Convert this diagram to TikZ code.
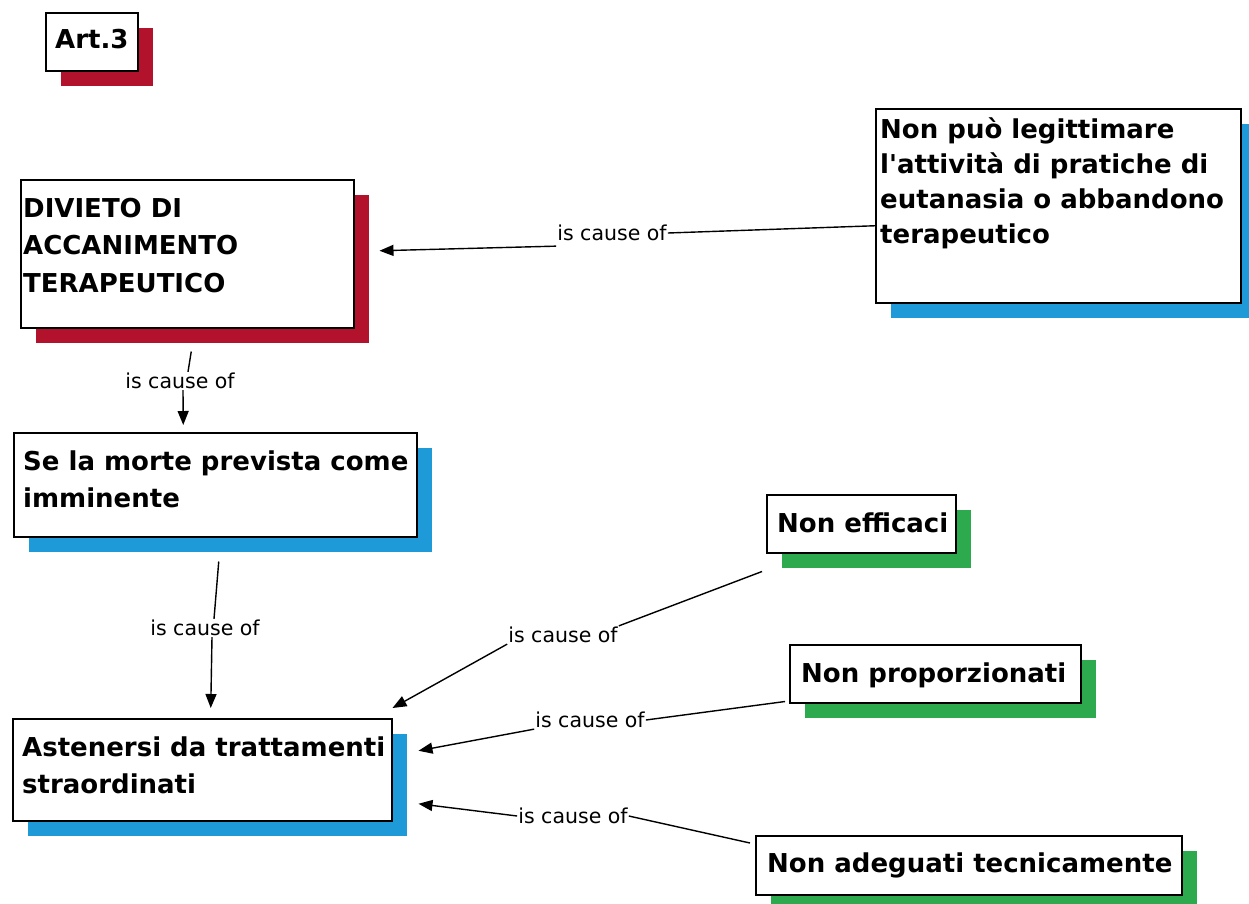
\documentclass[tikz,border=0pt]{standalone}
\usepackage{fontspec}
\setmainfont{DejaVu Sans}
\usetikzlibrary{arrows.meta,shadows}
\definecolor{shred}{HTML}{B3122D}
\definecolor{shblue}{HTML}{1E9AD8}
\definecolor{shgreen}{HTML}{2EAA4E}
\tikzset{
  cbox/.style={draw=black, line width=1.5pt, fill=white, inner sep=0pt, anchor=north west},
  redsh/.style={drop shadow={shadow xshift=15pt, shadow yshift=-15pt, opacity=1, fill=shred}},
  bluesh/.style={drop shadow={shadow xshift=15pt, shadow yshift=-15pt, opacity=1, fill=shblue}},
  greensh/.style={drop shadow={shadow xshift=15pt, shadow yshift=-15pt, opacity=1, fill=shgreen}},
  btext/.style={anchor=base west, inner sep=0pt, font=\fontsize{26}{37}\selectfont\bfseries},
  lbl/.style={font=\fontsize{20.5}{24}\selectfont, inner sep=1pt},
  conn/.style={line width=1.4pt, draw=black},
  arr/.style={conn, -{Triangle[length=14pt,width=11pt]}},
}
\begin{document}
\begin{tikzpicture}[x=1pt,y=-1pt]
\useasboundingbox (0,0) rectangle (1249,903);
% boxes
\node[cbox, redsh, minimum width=92pt, minimum height=58pt] (art) at (45,12) {};
\node[btext] (art-t) at (55,48) {Art.3};

\node[cbox, redsh, minimum width=333pt, minimum height=148pt] (div) at (20,179) {};
\node[btext, font=\fontsize{26}{37.5}\selectfont\bfseries] (div-t) at (23,217) {\parbox[t]{330pt}{DIVIETO DI\\ACCANIMENTO\\TERAPEUTICO}};

\node[cbox, bluesh, minimum width=365pt, minimum height=194pt] (pu) at (875,108) {};
\node[btext, font=\fontsize{26}{35}\selectfont\bfseries] (pu-t) at (880,138) {\parbox[t]{360pt}{Non può legittimare\\l\textquotesingle attività di pratiche di\\eutanasia o abbandono\\terapeutico}};

\node[cbox, bluesh, minimum width=403pt, minimum height=104pt] (se) at (13,432) {};
\node[btext] (se-t) at (23,470) {\parbox[t]{400pt}{Se la morte prevista come\\imminente}};

\node[cbox, bluesh, minimum width=379pt, minimum height=102pt] (ast) at (12,718) {};
\node[btext] (ast-t) at (22,756) {\parbox[t]{370pt}{Astenersi da trattamenti\\straordinati}};

\node[cbox, greensh, minimum width=189pt, minimum height=58pt] (eff) at (766,494) {};
\node[btext] (eff-t) at (777,532) {Non efficaci};

\node[cbox, greensh, minimum width=291pt, minimum height=58pt] (pro) at (789,644) {};
\node[btext] (pro-t) at (801,682) {Non proporzionati};

\node[cbox, greensh, minimum width=426pt, minimum height=59pt] (ade) at (755,835) {};
\node[btext] (ade-t) at (767,872) {Non adeguati tecnicamente};

% labels
\node[lbl] (l1) at (612,233) {is cause of};
\node[lbl] (l2) at (180,381) {is cause of};
\node[lbl] (l3) at (205,628) {is cause of};
\node[lbl] (l4) at (563,635) {is cause of};
\node[lbl] (l5) at (590,720) {is cause of};
\node[lbl] (l6) at (573,816) {is cause of};

% connectors
\draw[conn] ([yshift=-20pt]pu.west) -- (l1.east);
\draw[arr] ([yshift=-4pt]l1.south west) -- ([xshift=25pt,yshift=3pt]div.east);

\draw[conn] ([xshift=4pt,yshift=-23pt]div.south) -- ([xshift=8pt]l2.north);
\draw[arr] ([xshift=3pt]l2.south) -- ([xshift=-32pt,yshift=7pt]se.north);

\draw[conn] ([xshift=3.5pt,yshift=-24pt]se.south) -- ([xshift=9pt]l3.north);
\draw[arr] ([xshift=7pt]l3.south) -- ([xshift=8.5pt,yshift=10pt]ast.north);

\draw[conn] ([xshift=-4pt,yshift=-18pt]eff.south west) -- (l4.north east);
\draw[arr] (l4.south west) -- ([yshift=10pt]ast.north east);

\draw[conn] ([xshift=-4pt,yshift=2pt]pro.south west) -- (l5.east);
\draw[arr] (l5.south west) -- ([xshift=26pt,yshift=19pt]ast.east);

\draw[conn] ([xshift=-5pt,yshift=-8pt]ade.north west) -- (l6.east);
\draw[arr] (l6.west) -- ([xshift=26pt,yshift=-34pt]ast.east);
\end{tikzpicture}
\end{document}
